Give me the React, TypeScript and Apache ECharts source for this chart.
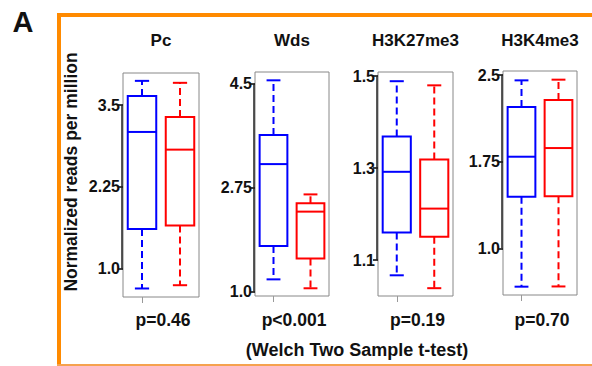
import React, { useEffect, useRef } from "react";
import * as echarts from "echarts";

const panelTitles = ["Pc", "Wds", "H3K27me3", "H3K4me3"];
const groupNames = ["Group A", "Group B"];
const pValues = ["p=0.46", "p<0.001", "p=0.19", "p=0.70"];

// [low whisker, Q1, median, Q3, high whisker]
const pcBlue = [0.7, 1.61, 3.09, 3.64, 3.87];
const pcRed = [0.75, 1.66, 2.82, 3.32, 3.84];
const wdsBlue = [1.21, 1.77, 3.15, 3.64, 4.56];
const wdsRed = [1.06, 1.56, 2.35, 2.49, 2.64];
const k27Blue = [1.067, 1.16, 1.292, 1.369, 1.489];
const k27Red = [1.039, 1.151, 1.212, 1.319, 1.48];
const k4Blue = [0.668, 1.447, 1.793, 2.223, 2.454];
const k4Red = [0.67, 1.45, 1.868, 2.284, 2.46];

const pcTicks = ["1.0", "2.25", "3.5"];
const wdsTicks = ["1.0", "2.75", "4.5"];
const k27Ticks = ["1.1", "1.3", "1.5"];
const k4Ticks = ["1.0", "1.75", "2.5"];

const pcRange = [0.57, 3.99];
const wdsRange = [0.93, 4.7];
const k27Range = [1.022, 1.509];
const k4Range = [0.596, 2.535];

const panelBlue = [pcBlue, wdsBlue, k27Blue, k4Blue];
const panelRed = [pcRed, wdsRed, k27Red, k4Red];
const panelTicks = [pcTicks, wdsTicks, k27Ticks, k4Ticks];
const panelRanges = [pcRange, wdsRange, k27Range, k4Range];

const gridPos = [
  { left: 123, top: 73, width: 76, height: 224 },
  { left: 255, top: 72, width: 74, height: 224 },
  { left: 378, top: 72, width: 75, height: 224 },
  { left: 503, top: 71, width: 74, height: 224 },
];

const COLORS = ["#0000FF", "#FF0000"];
const FONT = "'Liberation Sans', Arial, sans-serif";

function boxRender(params: any, api: any) {
  const cat = api.value(0);
  const lo = api.value(1);
  const q1 = api.value(2);
  const med = api.value(3);
  const q3 = api.value(4);
  const hi = api.value(5);
  const color = COLORS[cat];
  const band = api.size([1, 0])[0];
  const bw = band * 0.75;
  const cw = bw * 0.5;
  const pLo = api.coord([cat, lo]);
  const pQ1 = api.coord([cat, q1]);
  const pMed = api.coord([cat, med]);
  const pQ3 = api.coord([cat, q3]);
  const pHi = api.coord([cat, hi]);
  const cx = pMed[0];
  const solid = { stroke: color, lineWidth: 2, fill: null };
  const dashed = { stroke: color, lineWidth: 2, lineDash: [7, 4], fill: null };
  return {
    type: "group",
    children: [
      { type: "line", shape: { x1: cx, y1: pQ3[1], x2: cx, y2: pHi[1] }, style: dashed },
      { type: "line", shape: { x1: cx, y1: pQ1[1], x2: cx, y2: pLo[1] }, style: dashed },
      { type: "line", shape: { x1: cx - cw / 2, y1: pHi[1], x2: cx + cw / 2, y2: pHi[1] }, style: solid },
      { type: "line", shape: { x1: cx - cw / 2, y1: pLo[1], x2: cx + cw / 2, y2: pLo[1] }, style: solid },
      {
        type: "rect",
        shape: { x: cx - bw / 2, y: pQ3[1], width: bw, height: pQ1[1] - pQ3[1] },
        style: { stroke: color, lineWidth: 2, fill: "rgba(255,255,255,0)" },
      },
      { type: "line", shape: { x1: cx - bw / 2, y1: pMed[1], x2: cx + bw / 2, y2: pMed[1] }, style: solid },
    ],
  };
}

function txt(text: string, x: number, y: number, size: number, extra: any = {}) {
  return {
    type: "text",
    x,
    y,
    ...extra,
    style: {
      text,
      fontSize: size,
      fontWeight: "bold",
      fontFamily: FONT,
      fill: "#111",
      align: "center",
      verticalAlign: "middle",
    },
  };
}

export default function App() {
  const ref = useRef<HTMLDivElement>(null);
  useEffect(() => {
    if (!ref.current) return;
    const chart = echarts.init(ref.current, null, { renderer: "svg" });
    const grids: any[] = [];
    const xAxes: any[] = [];
    const yAxes: any[] = [];
    const series: any[] = [];
    for (let i = 0; i < 4; i++) {
      const g = gridPos[i];
      grids.push({
        left: g.left,
        top: g.top,
        width: g.width,
        height: g.height,
        show: true,
        borderColor: "#888888",
        borderWidth: 1,
        backgroundColor: "transparent",
      });
      xAxes.push({
        type: "category",
        gridIndex: i,
        data: groupNames,
        boundaryGap: true,
        axisLine: { show: false },
        axisTick: { show: true, alignWithLabel: true, length: 6, lineStyle: { color: "#999999", width: 1 } },
        axisLabel: { show: false },
        splitLine: { show: false },
      });
      const ticks = panelTicks[i].map((t) => parseFloat(t));
      yAxes.push({
        type: "value",
        gridIndex: i,
        min: panelRanges[i][0],
        max: panelRanges[i][1],
        axisLine: { show: false },
        splitLine: { show: false },
        axisTick: {
          show: true,
          length: 5,
          customValues: ticks,
          lineStyle: { color: "#000", width: 1.5 },
        },
        axisLabel: {
          show: true,
          customValues: ticks,
          margin: 3,
          color: "#111",
          fontFamily: FONT,
          fontWeight: "bold",
          fontSize: 16,
          formatter: (v: number) => {
            const idx = ticks.findIndex((t) => Math.abs(t - v) < 1e-9);
            return idx >= 0 ? panelTicks[i][idx] : "";
          },
        },
      });
      const data = [panelBlue[i], panelRed[i]].map((arr, k) => [k, ...arr]);
      series.push({
        type: "custom",
        xAxisIndex: i,
        yAxisIndex: i,
        renderItem: boxRender,
        data,
        encode: { x: 0, y: [1, 2, 3, 4, 5] },
        clip: false,
      });
      // R-style axis line from first to last tick
      series.push({
        type: "custom",
        xAxisIndex: i,
        yAxisIndex: i,
        data: [[0, ticks[0], ticks[ticks.length - 1]]],
        encode: { x: 0, y: [1, 2] },
        renderItem: (params: any, api: any) => {
          const a = api.coord([0, api.value(1)]);
          const b = api.coord([0, api.value(2)]);
          const x = params.coordSys.x - 1;
          return {
            type: "line",
            shape: { x1: x, y1: a[1], x2: x, y2: b[1] },
            style: { stroke: "#222", lineWidth: 1.5 },
          };
        },
        silent: true,
      });
    }

    const graphics: any[] = [
      { type: "rect", shape: { x: 57, y: 13, width: 540, height: 4 }, style: { fill: "#FF8A00" } },
      { type: "rect", shape: { x: 57, y: 13, width: 4, height: 360 }, style: { fill: "#FF8A00" } },
      { type: "rect", shape: { x: 57, y: 364, width: 540, height: 2 }, style: { fill: "#F5A24E" } },
      txt("A", 23, 22, 29),
      txt("Normalized reads per million", 71, 172, 17.5, { rotation: Math.PI / 2 }),
      txt("(Welch Two Sample t-test)", 357, 350, 18),
    ];
    for (let i = 0; i < 4; i++) {
      const g = gridPos[i];
      const cx = g.left + g.width / 2;
      graphics.push(txt(panelTitles[i], cx, 40, 17));
      graphics.push(txt(pValues[i], cx + 2, 320, 17.5));
    }

    chart.setOption({
      animation: false,
      backgroundColor: "#fff",
      grid: grids,
      xAxis: xAxes,
      yAxis: yAxes,
      series,
      graphic: graphics,
    });
    return () => chart.dispose();
  }, []);
  return (
    <div
      ref={ref}
      style={{ position: "absolute", left: 0, top: 0, width: 592, height: 366 }}
    />
  );
}
